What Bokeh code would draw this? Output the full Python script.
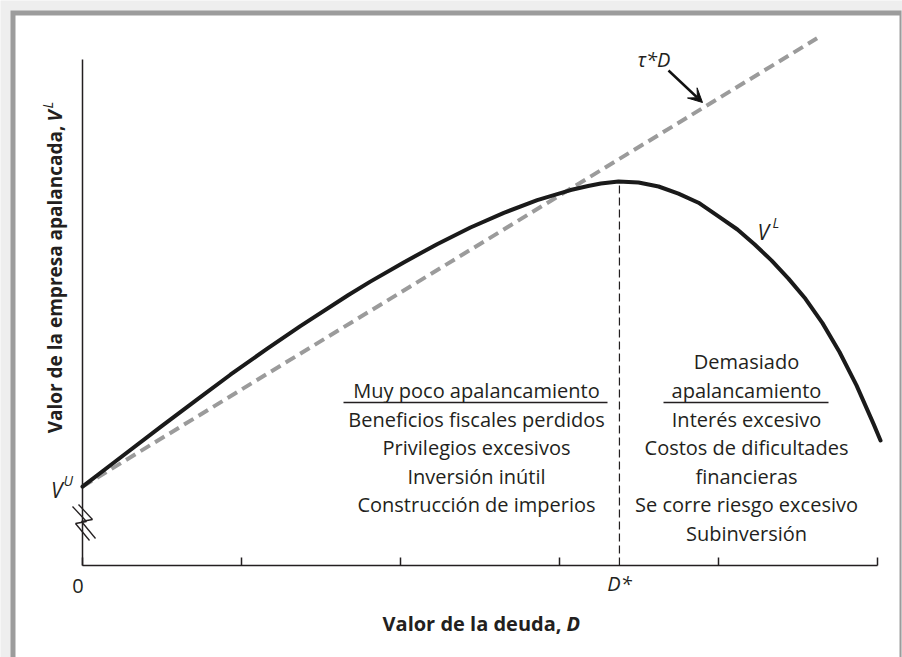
import math
from bokeh.plotting import figure
from bokeh.models import Range1d, Label, Arrow, VeeHead, BoxAnnotation
from bokeh.core.properties import value
from bokeh.embed import file_html
from bokeh.resources import INLINE

# ---------------- data ----------------
debt = [0, 0.2, 0.5, 0.72, 0.93, 1.16, 1.37, 1.67, 1.81, 2.02, 2.23, 2.44, 2.65,
        2.86, 3.07, 3.18, 3.26, 3.371, 3.497, 3.623, 3.748, 3.874, 4.0, 4.119,
        4.226, 4.333, 4.44, 4.547, 4.654, 4.761, 4.868, 4.975, 5.019]
firm_value = [15.6, 20.4, 27.6, 32.8, 37.7, 42.8, 47.3, 53.4, 56.1, 59.9, 63.5, 66.8, 69.7,
              72.2, 74.2, 75.0, 75.5, 75.9, 75.7, 74.9, 73.5, 71.7, 69.0, 66.4,
              63.5, 60.3, 56.7, 52.7, 47.9, 42.2, 35.6, 28.0, 24.7]
tax_line_debt = [0, 4.62]
tax_line_value = [15.6, 104.2]
d_star = 3.377
v_peak = 75.9
x_ticks = [0, 1, 2, 3, 4, 5]
x_axis_end = 5
y_axis_end = 100

left_header = ["Muy poco apalancamiento"]
left_items = ["Beneficios fiscales perdidos", "Privilegios excesivos",
              "Inversión inútil", "Construcción de imperios"]
right_header = ["Demasiado", "apalancamiento"]
right_items = ["Interés excesivo", "Costos de dificultades", "financieras",
               "Se corre riesgo excesivo", "Subinversión"]

TXT = "#231f20"
FONT = "Open Sans"

# scale: one debt unit = 159 px, one value unit = 5.06 px; origin at page (82, 565)
XU, YU, X0, Y0 = 159.0, 5.06, 82.0, 565.0
W, H = 902, 657
SHIFT = 7  # text baseline correction in px


def X(px):
    return (px - X0) / XU


def V(py):
    return (Y0 - py) / YU


def VT(py):
    return V(py - SHIFT)


p = figure(width=W, height=H, output_backend="svg", toolbar_location=None,
           x_range=Range1d(X(0), X(W)), y_range=Range1d(V(H), V(0)),
           x_axis_location=None, y_axis_location=None, min_border=0, title=None)
p.grid.visible = False
p.outline_line_color = None
p.background_fill_color = "#eeeeee"
p.border_fill_color = "#eeeeee"

# page frame (gray border + white panel)
p.add_layout(BoxAnnotation(left=X(10), right=X(901), top=V(10), bottom=V(H + 5),
                           fill_color="#9c9c9c", fill_alpha=1, line_color=None,
                           level="underlay"))
p.add_layout(BoxAnnotation(left=X(15), right=X(899), top=V(15), bottom=V(H + 5),
                           fill_color="white", fill_alpha=1, line_color=None,
                           level="underlay"))

# axes (drawn through the scales)
p.segment(x0=[0, 0], y0=[0, 0], x1=[x_axis_end, 0], y1=[0, y_axis_end],
          line_color=TXT, line_width=1.5)
p.segment(x0=x_ticks, y0=[0] * len(x_ticks), x1=x_ticks, y1=[8 / YU] * len(x_ticks),
          line_color=TXT, line_width=1.5)

# lines
p.line(tax_line_debt, tax_line_value, line_color="#9b9b9b", line_width=4, line_dash="11 6")
p.line(debt, firm_value, line_color="#1a1a1a", line_width=4, line_join="round", line_cap="round")
p.segment(x0=[d_star], y0=[0], x1=[d_star], y1=[v_peak], line_color=TXT,
          line_width=1.2, line_dash="8 4")

# text blocks
base = VT(397)
step = 28.6 / YU
left_x = X(476)
right_x = X(746)
lx, ly, lt = [], [], []
for i, t in enumerate(left_header[::-1]):
    lx.append(left_x); ly.append(base + i * step); lt.append(t)
for i, t in enumerate(left_items):
    lx.append(left_x); ly.append(base - (i + 1) * step); lt.append(t)
for i, t in enumerate(right_header[::-1]):
    lx.append(right_x); ly.append(base + i * step); lt.append(t)
for i, t in enumerate(right_items):
    lx.append(right_x); ly.append(base - (i + 1) * step); lt.append(t)
p.text(x=lx, y=ly, text=lt, text_align="center", text_baseline="alphabetic",
       text_font=value(FONT), text_font_size="20px", text_color=TXT)

# header underlines
p.segment(x0=[X(343), X(663)], y0=[V(402)] * 2, x1=[X(607), X(828)], y1=[V(402)] * 2,
          line_color=TXT, line_width=1.5)


def lab(x, y, text, size="20px", style="normal", align="left", baseline="alphabetic", angle=0):
    p.add_layout(Label(x=x, y=y, text=text, text_font=FONT, text_font_size=size,
                       text_font_style=style, text_align=align, text_baseline=baseline,
                       text_color=TXT, angle=angle))


# tick labels
lab(X(77.5), VT(592), "0", align="center")
lab(d_star, VT(590), "D*", style="italic", align="center")

# axis titles
lab(X(561), VT(630), "Valor de la deuda,", style="bold", align="right")
lab(X(566), VT(630), "D", style="bold italic", align="left")
lab(X(61 - SHIFT), V(125), "Valor de la empresa apalancada,", size="19px", style="bold",
    align="right", angle=math.pi / 2)
lab(X(61 - SHIFT), V(121), "V", size="19px", style="bold italic", align="left", angle=math.pi / 2)
lab(X(54 - SHIFT), V(108), "L", size="14px", style="italic", align="left", angle=math.pi / 2)

# curve labels
lab(X(62), VT(496), "V", size="21px", style="italic", align="right")
lab(X(63), VT(487), "U", size="14px", style="italic", align="left")
lab(X(757), VT(238), "V", size="21px", style="italic", align="left")
lab(X(772), VT(229), "L", size="14px", style="italic", align="left")
lab(X(637), VT(66), "τ*D", size="20px", style="italic", align="left")

# arrow to the tax line
p.add_layout(Arrow(end=VeeHead(size=14, fill_color="#111111", line_color="#111111"),
                   x_start=X(668), y_start=V(70), x_end=X(702), y_end=V(102),
                   line_width=2.5, line_color="#111111"))

# axis break symbol
for ox, oy in [(0, 0), (6, -2)]:
    zx = [72 + ox, 86 + ox, 75 + ox, 89 + ox]
    zy = [506 + oy, 521 + oy, 523 + oy, 540 + oy]
    for k in range(3):
        p.add_layout(Arrow(end=None, x_start=X(zx[k]), y_start=V(zy[k]),
                           x_end=X(zx[k + 1]), y_end=V(zy[k + 1]),
                           line_width=1.3, line_color=TXT))

open("out.html", "w").write(file_html(p, INLINE, title="Valor de la empresa"))
